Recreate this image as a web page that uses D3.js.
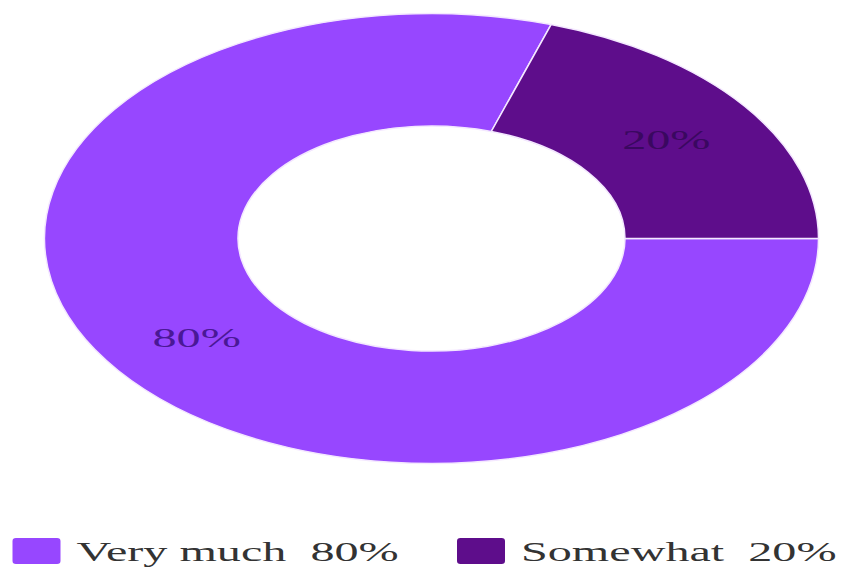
<!DOCTYPE html>
<html>
<head>
<meta charset="utf-8">
<script src="https://cdn.jsdelivr.net/npm/d3@7"></script>
<style>
  html, body { margin: 0; padding: 0; background: #ffffff; }
  svg { display: block; }
</style>
</head>
<body>
<svg id="chart"></svg>
<script>
const categories = ["Very much", "Somewhat"];
const values = [80, 20];
const colors = ["#9747FF", "#5E0D8B"];
const labelColors = ["#4A1896", "#3A0860"];

const W = 843, H = 567;
const sx = 1.72;               // horizontal stretch of the reference
const vbW = W / sx;

const svg = d3.select("#chart")
  .attr("width", W).attr("height", H)
  .attr("viewBox", `0 0 ${vbW} ${H}`)
  .attr("preserveAspectRatio", "none");

const cx = 431.5 / sx, cy = 238.5;
const outerR = 225, innerR = 112.5;

const data = categories.map((c, i) => ({ name: c, value: values[i], color: colors[i], lc: labelColors[i] }));

const pie = d3.pie().sort(null).value(d => d.value)
  .startAngle(Math.PI / 2).endAngle(Math.PI / 2 + 2 * Math.PI);
const arc = d3.arc().innerRadius(innerR).outerRadius(outerR);

const g = svg.append("g").attr("transform", `translate(${cx},${cy})`);
const arcs = pie(data);

g.selectAll("path").data(arcs).join("path")
  .attr("d", arc)
  .attr("fill", d => d.data.color)
  .attr("stroke", "#f4e8ff")
  .attr("stroke-width", 1.5)
  .attr("vector-effect", "non-scaling-stroke");

g.selectAll("text.lbl").data(arcs).join("text")
  .attr("class", "lbl")
  .attr("transform", d => `translate(${arc.centroid(d)})`)
  .attr("text-anchor", "middle")
  .attr("dominant-baseline", "central")
  .attr("font-family", "'Liberation Serif', 'Times New Roman', serif")
  .attr("font-size", 28)
  .attr("fill", d => d.data.lc)
  .text(d => d3.format(".0f")(d.data.value / d3.sum(values) * 100) + "%");

// Legend
const legendX = [12.5 / sx, 457 / sx];
const legend = svg.append("g");
const items = legend.selectAll("g").data(data).join("g")
  .attr("transform", (d, i) => `translate(${legendX[i]},538)`);
items.append("rect")
  .attr("width", 48 / sx).attr("height", 26)
  .attr("rx", 2).attr("ry", 3)
  .attr("fill", d => d.color);
items.append("text")
  .attr("x", 64 / sx)
  .attr("y", 23)
  .attr("font-family", "'Liberation Serif', 'Times New Roman', serif")
  .attr("font-size", 28)
  .attr("fill", "#333333")
  .style("white-space", "pre")
  .text(d => d.name + "  " + d.value + "%");
</script>
</body>
</html>
